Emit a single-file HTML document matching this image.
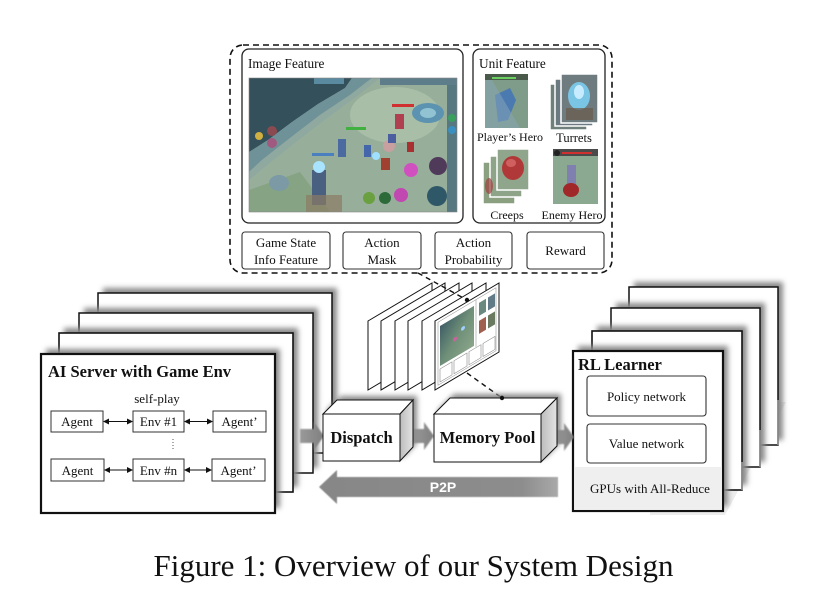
<!DOCTYPE html>
<html><head><meta charset="utf-8"><style>
html,body{margin:0;padding:0;background:#fff;}
svg{display:block;}
text{font-family:"Liberation Serif",serif;fill:#111;}
</style></head><body>
<svg width="830" height="605" viewBox="0 0 830 605" xmlns="http://www.w3.org/2000/svg">
<defs>
 <filter id="b" x="-20%" y="-20%" width="140%" height="140%"><feGaussianBlur stdDeviation="2.6"/></filter>
 <filter id="b1" x="-10%" y="-10%" width="120%" height="120%"><feGaussianBlur stdDeviation="0.8"/></filter>
 <filter id="bs" x="-10%" y="-10%" width="120%" height="120%"><feGaussianBlur stdDeviation="0.5"/></filter>
 <linearGradient id="rf" x1="0" y1="0" x2="1" y2="0"><stop offset="0" stop-color="#bcbcbc"/><stop offset="1" stop-color="#e4e4e4"/></linearGradient>
 <linearGradient id="p2p" x1="0" x2="1"><stop offset="0" stop-color="#878787"/><stop offset="0.85" stop-color="#8d8d8d"/><stop offset="1" stop-color="#a9a9a9"/></linearGradient>
 <linearGradient id="ga" x1="0" x2="1"><stop offset="0" stop-color="#999"/><stop offset="1" stop-color="#7f7f7f"/></linearGradient>
 <clipPath id="gc"><rect x="249" y="78" width="208" height="134"/></clipPath>
 <linearGradient id="cardimg" x1="0" y1="0" x2="1" y2="1"><stop offset="0" stop-color="#3f5f66"/><stop offset="0.5" stop-color="#6f8f78"/><stop offset="1" stop-color="#8aa58a"/></linearGradient>
</defs>

<!-- ============ TOP DASHED FEATURE PANEL ============ -->
<rect x="230" y="45" width="382" height="228" rx="13" fill="none" stroke="#111" stroke-width="1.6" stroke-dasharray="6 4"/>

<rect x="242" y="49" width="221" height="174" rx="7" fill="#fff" stroke="#222" stroke-width="1.3"/>
<text x="248" y="68" font-size="13.3">Image Feature</text>

<!-- game screenshot -->
<g clip-path="url(#gc)">
 <rect x="249" y="78" width="208" height="134" fill="#97ae9a"/>
 <ellipse cx="395" cy="115" rx="45" ry="28" fill="#a8bea6"/>
 <polygon points="249,78 352,78 345,88 318,104 292,122 268,140 249,152" fill="#33505b"/>
 <polygon points="249,152 268,140 292,122 318,104 345,88 352,78 372,78 350,95 320,115 290,138 262,160 249,172" fill="#6f9298"/>
 <polygon points="249,172 262,160 290,138 320,115 350,95 372,78 380,78 356,97 326,119 296,142 266,166 249,180" fill="#8fa9a0"/>
 <rect x="380" y="78" width="77" height="7" fill="#5d7d8a"/>
 <ellipse cx="428" cy="113" rx="16" ry="10" fill="#5b93b0"/>
 <ellipse cx="428" cy="113" rx="8" ry="5" fill="#92c3d2"/>
 <rect x="447" y="85" width="10" height="127" fill="#3f6678" opacity="0.75"/>
 <circle cx="452" cy="118" r="4" fill="#3aa060"/>
 <circle cx="452" cy="130" r="4" fill="#3a90c0"/>
 <circle cx="272" cy="131" r="5" fill="#8a4a50"/>
 <circle cx="272" cy="143" r="5" fill="#a05a80"/>
 <circle cx="259" cy="136" r="4" fill="#d0b040"/>
 <polygon points="249,190 300,172 330,212 249,212" fill="#86a484"/>
 <ellipse cx="279" cy="183" rx="10" ry="8" fill="#7b9aa6"/>
 <rect x="312" y="170" width="14" height="35" fill="#4a6080"/>
 <circle cx="319" cy="167" r="6" fill="#a8e4ff"/>
 <rect x="306" y="195" width="36" height="17" fill="#8a7a62" opacity="0.7"/>
 <rect x="312" y="153" width="22" height="3" fill="#4a80c0"/>
 <circle cx="369" cy="198" r="6" fill="#6aa040"/>
 <circle cx="385" cy="198" r="6" fill="#2c6a3a"/>
 <circle cx="401" cy="195" r="7" fill="#c048b0"/>
 <circle cx="411" cy="170" r="7" fill="#d050c0"/>
 <circle cx="438" cy="166" r="9" fill="#503a5a"/>
 <circle cx="437" cy="196" r="10" fill="#2e5868"/>
 <circle cx="389" cy="146" r="6" fill="#c8a0a0"/>
 <rect x="338" y="139" width="8" height="18" fill="#4a6aa0"/>
 <rect x="364" y="145" width="7" height="12" fill="#4466aa"/>
 <circle cx="376" cy="156" r="4" fill="#a0e0ff"/>
 <rect x="381" y="158" width="9" height="12" fill="#a04030"/>
 <rect x="407" y="142" width="7" height="10" fill="#a83030"/>
 <rect x="388" y="134" width="8" height="9" fill="#4a5ea0"/>
 <rect x="395" y="114" width="9" height="15" fill="#b04050"/>
 <rect x="346" y="127" width="20" height="3" fill="#40b040"/>
 <rect x="392" y="104" width="22" height="3" fill="#d03030"/>
 <rect x="314" y="78" width="30" height="6" fill="#5a8aa0"/>
</g>
<rect x="249" y="78" width="208" height="134" fill="none" stroke="#888" stroke-width="0.6"/>

<rect x="473" y="49" width="132" height="174" rx="7" fill="#fff" stroke="#222" stroke-width="1.3"/>
<text x="479" y="68" font-size="13.3">Unit Feature</text>

<!-- Player's hero -->
<rect x="485" y="74" width="43" height="54" fill="#7f9c8a"/>
<rect x="485" y="74" width="43" height="6" fill="#4a5a4a"/>
<rect x="492" y="77" width="24" height="2" fill="#6ad060"/>
<polygon points="495,95 510,88 516,100 508,120 498,122" fill="#4a7ab0"/>
<polygon points="485,80 492,80 520,128 485,128" fill="#8aa6b8" opacity="0.5"/>
<!-- turrets -->
<rect x="550" y="84" width="37" height="46" fill="#6f7f7a" stroke="#fff" stroke-width="1.5"/>
<rect x="555" y="79" width="38" height="47" fill="#6a7a80" stroke="#fff" stroke-width="1.5"/>
<rect x="561" y="74" width="37" height="49" fill="#6e7c80" stroke="#fff" stroke-width="1.5"/>
<ellipse cx="579" cy="96" rx="11" ry="14" fill="#7ac4e4"/>
<ellipse cx="579" cy="92" rx="5" ry="7" fill="#c8ecff"/>
<rect x="566" y="108" width="27" height="12" fill="#6a5a4a" opacity="0.7"/>
<text x="510" y="141" font-size="12" text-anchor="middle">Player’s Hero</text>
<text x="574" y="142" font-size="12.5" text-anchor="middle">Turrets</text>
<!-- creeps -->
<rect x="483" y="162" width="32" height="42" fill="#8aa080" stroke="#fff" stroke-width="1.5"/>
<rect x="490" y="156" width="32" height="41" fill="#8ea488" stroke="#fff" stroke-width="1.5"/>
<rect x="497" y="149" width="32" height="41" fill="#90a68c" stroke="#fff" stroke-width="1.5"/>
<ellipse cx="513" cy="168" rx="11" ry="12" fill="#b03838"/>
<ellipse cx="511" cy="163" rx="5" ry="4" fill="#d06060"/>
<ellipse cx="489" cy="186" rx="4" ry="8" fill="#a04040" opacity="0.7"/>
<!-- enemy hero -->
<rect x="553" y="149" width="45" height="55" fill="#8ba890"/>
<rect x="553" y="149" width="45" height="7" fill="#4a4a4a"/>
<rect x="562" y="152" width="30" height="2" fill="#d03030"/>
<circle cx="557" cy="153" r="3" fill="#222"/>
<rect x="567" y="165" width="9" height="22" fill="#8080b0"/>
<ellipse cx="571" cy="190" rx="8" ry="7" fill="#a02828"/>
<text x="507" y="219" font-size="12" text-anchor="middle">Creeps</text>
<text x="572" y="219" font-size="12" text-anchor="middle">Enemy Hero</text>

<!-- bottom feature boxes -->
<rect x="242" y="232" width="88" height="37" rx="3" fill="#fff" stroke="#333" stroke-width="1.1"/>
<text x="286" y="247" font-size="13" text-anchor="middle">Game State</text>
<text x="286" y="264" font-size="13" text-anchor="middle">Info Feature</text>
<rect x="343" y="232" width="78" height="37" rx="3" fill="#fff" stroke="#333" stroke-width="1.1"/>
<text x="382" y="247" font-size="13" text-anchor="middle">Action</text>
<text x="382" y="264" font-size="13" text-anchor="middle">Mask</text>
<rect x="435" y="232" width="77" height="37" rx="3" fill="#fff" stroke="#333" stroke-width="1.1"/>
<text x="473.5" y="247" font-size="13" text-anchor="middle">Action</text>
<text x="473.5" y="264" font-size="13" text-anchor="middle">Probability</text>
<rect x="527" y="232" width="77" height="37" rx="3" fill="#fff" stroke="#333" stroke-width="1.1"/>
<text x="565.5" y="255" font-size="13" text-anchor="middle">Reward</text>

<!-- ============ AI SERVER STACK ============ -->
<rect x="103" y="288" width="234" height="160" fill="#8a8a8a" filter="url(#b)"/>
<rect x="98" y="293" width="234" height="160" fill="#fff" stroke="#111" stroke-width="1.5"/>
<rect x="84" y="308" width="234" height="160" fill="#8a8a8a" filter="url(#b)"/>
<rect x="79" y="313" width="234" height="160" fill="#fff" stroke="#111" stroke-width="1.5"/>
<rect x="64" y="328" width="234" height="159" fill="#8a8a8a" filter="url(#b)"/>
<rect x="59" y="333" width="234" height="159" fill="#fff" stroke="#111" stroke-width="1.6"/>
<rect x="46" y="349" width="234" height="159" fill="#8a8a8a" filter="url(#b)"/>
<rect x="41" y="354" width="234" height="159" fill="#fff" stroke="#111" stroke-width="2.2"/>
<text x="48" y="377" font-size="16.5" font-weight="bold">AI Server with Game Env</text>
<text x="157" y="403" font-size="13" text-anchor="middle">self-play</text>

<g stroke="#333" stroke-width="1" fill="#fff">
 <rect x="51" y="411" width="52" height="21"/>
 <rect x="133" y="411" width="51" height="21"/>
 <rect x="213" y="411" width="53" height="21"/>
 <rect x="51" y="459" width="53" height="22"/>
 <rect x="133" y="459" width="51" height="22"/>
 <rect x="212" y="459" width="53" height="22"/>
</g>
<g font-size="13" text-anchor="middle">
 <text x="77" y="426">Agent</text>
 <text x="158.5" y="426">Env #1</text>
 <text x="239.5" y="426">Agent’</text>
 <text x="77.5" y="475">Agent</text>
 <text x="158.5" y="475">Env #n</text>
 <text x="238.5" y="475">Agent’</text>
</g>
<g stroke="#111" stroke-width="1">
 <line x1="108" y1="421.5" x2="128" y2="421.5"/>
 <line x1="189" y1="421.5" x2="208" y2="421.5"/>
 <line x1="109" y1="470" x2="128" y2="470"/>
 <line x1="189" y1="470" x2="207" y2="470"/>
</g>
<g fill="#111">
 <polygon points="103,421.5 109,418.5 109,424.5"/><polygon points="133,421.5 127,418.5 127,424.5"/>
 <polygon points="184,421.5 190,418.5 190,424.5"/><polygon points="213,421.5 207,418.5 207,424.5"/>
 <polygon points="104,470 110,467 110,473"/><polygon points="133,470 127,467 127,473"/>
 <polygon points="184,470 190,467 190,473"/><polygon points="212,470 206,467 206,473"/>
</g>
<line x1="173" y1="439" x2="173" y2="451" stroke="#555" stroke-width="1" stroke-dasharray="1 2"/>

<!-- ============ RL LEARNER STACK ============ -->
<polygon points="650,515 725,515 786,402 650,402" fill="#ececec"/>
<rect x="634" y="282" width="149" height="158" fill="#8a8a8a" filter="url(#b)"/>
<rect x="629" y="287" width="149" height="158" fill="#fff" stroke="#111" stroke-width="1.5"/>
<line x1="778" y1="400" x2="778" y2="445" stroke="#999" stroke-width="1.5"/>
<rect x="616" y="303" width="149" height="159" fill="#8a8a8a" filter="url(#b)"/>
<rect x="611" y="308" width="149" height="159" fill="#fff" stroke="#111" stroke-width="1.5"/>
<line x1="760" y1="430" x2="760" y2="467" stroke="#999" stroke-width="1.5"/>
<rect x="597" y="326" width="150" height="159" fill="#8a8a8a" filter="url(#b)"/>
<rect x="592" y="331" width="150" height="159" fill="#fff" stroke="#111" stroke-width="1.6"/>
<line x1="742" y1="462" x2="742" y2="490" stroke="#999" stroke-width="1.6"/>
<rect x="578" y="346" width="150" height="160" fill="#8a8a8a" filter="url(#b)"/>
<rect x="573" y="351" width="150" height="160" fill="#fff" stroke="#111" stroke-width="2.2"/>
<rect x="574.1" y="467" width="147.8" height="42.9" fill="#efefef"/>
<text x="578" y="370" font-size="16.5" font-weight="bold">RL Learner</text>
<rect x="587" y="376" width="119" height="40" rx="3" fill="#fff" stroke="#333" stroke-width="1.1"/>
<text x="646.5" y="401" font-size="13" text-anchor="middle">Policy network</text>
<rect x="587" y="424" width="119" height="39" rx="3" fill="#fff" stroke="#333" stroke-width="1.1"/>
<text x="646.5" y="448" font-size="13" text-anchor="middle">Value network</text>
<text x="650" y="493" font-size="13" text-anchor="middle">GPUs with All-Reduce</text>

<!-- ============ CARD STACK ============ -->
<g stroke="#111" stroke-width="1" fill="#fff">
 <polygon points="368,321 432,283 432,352 368,390"/>
 <polygon points="381,321 445,283 445,352 381,390"/>
 <polygon points="395,321 459,283 459,352 395,390"/>
 <polygon points="408,321 472,283 472,352 408,390"/>
 <polygon points="422,321 486,283 486,352 422,390"/>
 <polygon points="435,321 499,283 499,352 435,390"/>
</g>
<g transform="matrix(1,-0.594,0,1,435,321)">
 <rect x="3" y="3" width="58" height="63" fill="none" stroke="#999" stroke-width="0.6"/>
 <rect x="5" y="8" width="34" height="40" fill="url(#cardimg)"/>
 <circle cx="20" cy="30" r="2" fill="#d060a0"/>
 <circle cx="28" cy="24" r="2" fill="#a0d0ff"/>
 <line x1="41" y1="3" x2="41" y2="50" stroke="#999" stroke-width="0.6"/>
 <rect x="44" y="8" width="7" height="13" fill="#6a8a80"/>
 <rect x="53" y="8" width="7" height="13" fill="#607a88"/>
 <rect x="44" y="26" width="7" height="13" fill="#a06050"/>
 <rect x="53" y="26" width="7" height="13" fill="#6a7a60"/>
 <g fill="none" stroke="#888" stroke-width="0.6">
  <rect x="5" y="51" width="12" height="13"/><rect x="19" y="51" width="13" height="13"/>
  <rect x="34" y="51" width="12" height="13"/><rect x="48" y="51" width="12" height="13"/>
 </g>
</g>

<!-- dashed connectors -->
<line x1="418" y1="273" x2="467" y2="300" stroke="#111" stroke-width="1.4" stroke-dasharray="5 4"/>
<circle cx="467" cy="300" r="2.2" fill="#111"/>
<line x1="467" y1="373" x2="502" y2="398" stroke="#111" stroke-width="1.4" stroke-dasharray="5 4"/>
<circle cx="502" cy="398" r="2.2" fill="#111"/>

<!-- ============ GRAY ARROWS ============ -->
<polygon points="300,429 314,429 314,422 324,436 314,450 314,443 300,443" fill="url(#ga)" filter="url(#b1)"/>
<polygon points="413,429 424,429 424,422 434,436 424,450 424,443 413,443" fill="url(#ga)" filter="url(#b1)"/>
<polygon points="556,430 564,430 564,423 574,437 564,451 564,444 556,444" fill="url(#ga)" filter="url(#b1)"/>

<!-- ============ CUBES ============ -->
<polygon points="327,410 341,396 417,396 417,443 404,457 327,457" fill="#8a8a8a" filter="url(#b)"/>
<polygon points="323,414 337,400 413,400 400,414" fill="#fff" stroke="#111" stroke-width="1"/>
<polygon points="400,414 413,400 413,447 400,461" fill="url(#rf)" stroke="#111" stroke-width="1"/>
<rect x="323" y="414" width="77" height="47" fill="#fff" stroke="#111" stroke-width="1"/>
<text x="361.5" y="443" font-size="16.5" font-weight="bold" text-anchor="middle">Dispatch</text>

<polygon points="438,410 454,394 561,394 561,442 545,458 438,458" fill="#8a8a8a" filter="url(#b)"/>
<polygon points="434,414 450,398 557,398 541,414" fill="#fff" stroke="#111" stroke-width="1"/>
<polygon points="541,414 557,398 557,446 541,462" fill="url(#rf)" stroke="#111" stroke-width="1"/>
<rect x="434" y="414" width="107" height="48" fill="#fff" stroke="#111" stroke-width="1"/>
<text x="487.5" y="443" font-size="16.5" font-weight="bold" text-anchor="middle">Memory Pool</text>
<circle cx="502" cy="398" r="2.2" fill="#111"/>

<!-- ============ P2P ARROW ============ -->
<polygon points="319,487 337,470 337,477 558,477 558,497 337,497 337,504" fill="url(#p2p)" filter="url(#bs)"/>
<text x="443" y="492" font-size="14" font-weight="bold" text-anchor="middle" style="font-family:'Liberation Sans',sans-serif;fill:#fff">P2P</text>

<!-- ============ CAPTION ============ -->
<text x="413.5" y="576" font-size="31" text-anchor="middle">Figure 1: Overview of our System Design</text>
</svg>
</body></html>
